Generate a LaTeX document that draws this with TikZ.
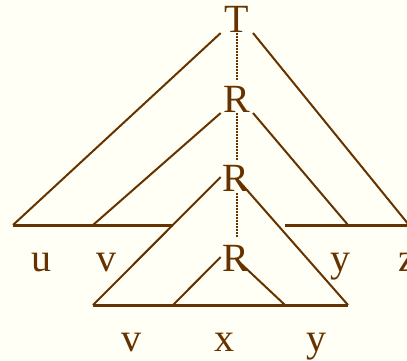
\documentclass[tikz,border=0pt]{standalone}
\usepackage{fontspec}
\setmainfont{Liberation Serif}
\definecolor{brn}{RGB}{102,51,0}
\definecolor{bgc}{RGB}{255,255,245}
\begin{document}
\begin{tikzpicture}[x=1pt,y=-1pt,
  lbl/.style={anchor=base,inner sep=0pt,text=brn,font=\fontsize{40}{40}\selectfont},
  slant/.style={draw=brn,line width=2pt},
  flat/.style={draw=brn,line width=3pt},
  dots/.style={draw=brn,line width=1.5pt,dash pattern=on 1.5pt off 1.5pt}]
\fill[bgc] (0,0) rectangle (407,360);
\clip (0,0) rectangle (407,360);
\useasboundingbox (0,0) rectangle (407,360);
% labels
\node[lbl] (T) at (237,32) {T};
\node[lbl] (R1) at (237,112) {R};
\node[lbl] (R2) at (236,191) {R};
\node[lbl] (R3) at (236,271) {R};
\node[lbl] (u) at (41,271) {u};
\node[lbl] (v1) at (106.5,271) {v};
\node[lbl] (y1) at (340,271) {y};
\node[lbl] (z) at (407,271) {z};
\node[lbl] (v2) at (131,351) {v};
\node[lbl] (x) at (224,351) {x};
\node[lbl] (y2) at (316,351) {y};
% coordinates
\coordinate (Tl) at (220.7,33);
\coordinate (Tr) at (253,33);
\coordinate (Td) at (237,33);
\coordinate (R1u) at (237,80);
\coordinate (R1l) at (220.7,113);
\coordinate (R1r) at (253,113);
\coordinate (R1d) at (237,113);
\coordinate (R2u) at (237,160);
\coordinate (R2l) at (220.7,177);
\coordinate (R2r) at (239,181);
\coordinate (R2d) at (237,193);
\coordinate (R3u) at (237,238);
\coordinate (R3l) at (220.7,257);
\coordinate (R3r) at (236,259);
\coordinate (A) at (13,225);
\coordinate (B) at (93,225);
\coordinate (C) at (173,225);
\coordinate (D) at (285,225);
\coordinate (E) at (348,225);
\coordinate (F) at (409,225);
\coordinate (G) at (93,305);
\coordinate (H) at (173,305);
\coordinate (I) at (285,305);
\coordinate (J) at (348,305);
% baselines
\draw[flat] (A) -- (C);
\draw[flat] (D) -- (F);
\draw[flat] (G) -- (J);
% slanted
\draw[slant] (Tl) -- (A);
\draw[slant] (Tr) -- (F);
\draw[slant] (R1l) -- (B);
\draw[slant] (R1r) -- (E);
\draw[slant] (R2l) -- (G);
\draw[slant] (R2r) -- (J);
\draw[slant] (R3l) -- (H);
\draw[slant] (R3r) -- (I);
% dotted
\draw[dots] (Td) -- (R1u);
\draw[dots] (R1d) -- (R2u);
\draw[dots] (R2d) -- (R3u);
\end{tikzpicture}
\end{document}
